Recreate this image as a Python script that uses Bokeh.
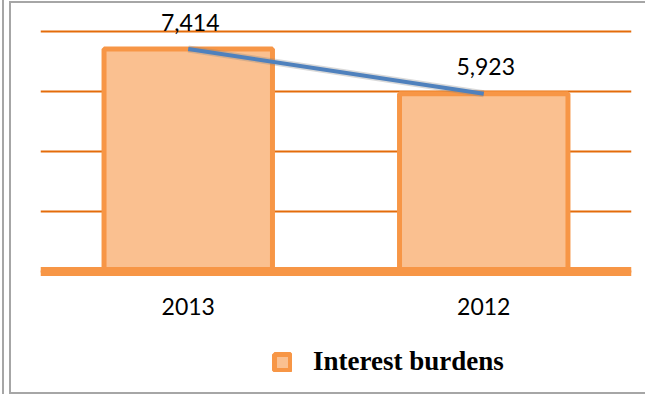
from bokeh.plotting import figure
from bokeh.models import (Range1d, FactorRange, FixedTicker, Legend, LegendItem,
                          ColumnDataSource, InlineStyleSheet)
from bokeh.core.properties import value
from bokeh.embed import file_html
from bokeh.resources import INLINE

categories = ["2013", "2012"]
interest_burdens = [7414, 5923]
value_labels = ["7,414", "5,923"]
y_ticks = [0, 2000, 4000, 6000, 8000]
series_name = "Interest burdens"

src = ColumnDataSource(dict(cat=categories, val=interest_burdens, lab=value_labels))

# frame spans the full height; 30 px per 1000, zero line at 271 px from the top
p = figure(width=645, height=394, output_backend="svg", toolbar_location=None,
           x_range=FactorRange(*categories, range_padding=0),
           y_range=Range1d(-4100, 9033.3),
           min_border_left=40, min_border_right=14, min_border_top=0, min_border_bottom=0)
p.outline_line_color = None
p.background_fill_color = "white"
p.border_fill_color = "white"

bars = p.vbar(x="cat", top="val", bottom=0, width=0.57, source=src,
              fill_color="#FAC090", line_color="#F79646", line_width=5)
p.line(x="cat", y="val", source=src, line_color="#808080", line_alpha=0.3, line_width=7)
p.line(x="cat", y="val", source=src, line_color="#4F81BD", line_width=4)
p.text(x="cat", y="val", text="lab", source=src, text_font=value("Lato"),
       text_font_size="23px", text_color="black", text_align="center",
       text_baseline="middle", x_offset=2, y_offset=-27)

p.yaxis.visible = False
p.yaxis.ticker = FixedTicker(ticks=y_ticks)
p.ygrid.grid_line_color = "#E46C0A"
p.ygrid.grid_line_width = 2
p.xgrid.grid_line_color = None

ax = p.xaxis[0]
ax.fixed_location = 0
ax.axis_line_color = "#F79646"
ax.axis_line_width = 9
ax.major_tick_line_color = None
ax.minor_tick_line_color = None
ax.major_label_text_font = "Lato"
ax.major_label_text_font_size = "23px"
ax.major_label_text_color = "black"
ax.major_label_standoff = 21

legend = Legend(items=[LegendItem(label=series_name, renderers=[bars])],
                location=(232, 17), orientation="horizontal",
                label_text_font="Liberation Serif", label_text_font_style="bold",
                label_text_font_size="27px", label_text_color="black",
                glyph_width=20, glyph_height=20, label_standoff=21,
                padding=0, margin=0, spacing=0,
                border_line_color=None, background_fill_alpha=0)
p.add_layout(legend, "center")

# grey picture frame around the chart (double line on the left)
frame_css = InlineStyleSheet(css="""
:host::before {
  content: ""; position: absolute; z-index: 5; pointer-events: none;
  left: 2px; top: 0px; width: 2px; height: 394px; background: #A6A6A6;
}
:host::after {
  content: ""; position: absolute; z-index: 5; pointer-events: none; box-sizing: border-box;
  left: 9px; top: 1px; width: 636px; height: 393px;
  border-left: 2px solid #A6A6A6; border-top: 2px solid #A6A6A6; border-bottom: 2px solid #A6A6A6;
}
""")
p.stylesheets = [frame_css]

open("out.html", "w").write(file_html(p, INLINE))
